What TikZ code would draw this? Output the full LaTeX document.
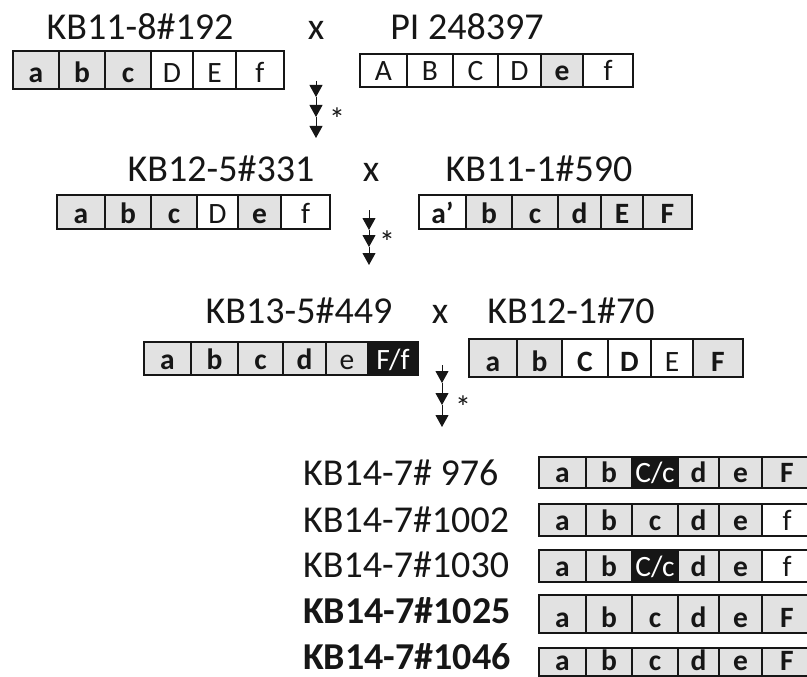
\documentclass[tikz,border=0pt]{standalone}
\usepackage{fontspec}
\setmainfont{Carlito}
\usetikzlibrary{arrows.meta}

\definecolor{cellgray}{RGB}{226,226,226}
\definecolor{ink}{RGB}{22,22,22}

\newcommand\cellfont{\fontsize{29.5}{30}\selectfont}
\newcommand\lblfont{\fontsize{38}{40}\selectfont}

% one cell: name, left x, right x, top y, bottom y, style, text
\newcommand\cellat[7]{%
  \pgfmathsetmacro\cellW{#3-#2}%
  \pgfmathsetmacro\cellH{#5-#4}%
  \pgfmathsetmacro\cellT{#5-#4-12}%
  \node[cellbase,#6,minimum width=\cellW pt,minimum height=\cellH pt,
        text height=\cellT pt,text depth=0pt] (#1) at ({(#2+#3)/2},{(#4+#5)/2}) {#7};%
}

% a row of six cells with a frame: name, top y, bottom y, x borders, style/text list
\newcommand\genebox[5]{%
  \foreach [count=\i] \cs/\ct in {#5} {%
    \pgfmathsetmacro\xl{{#4}[\i-1]}%
    \pgfmathsetmacro\xr{{#4}[\i]}%
    \cellat{#1-\i}{\xl}{\xr}{#2}{#3}{\cs}{\ct}%
  }%
  \draw[boxframe] (#1-1.north west) rectangle (#1-6.south east);%
}

\tikzset{
  cellbase/.style={draw=ink, line width=1.3pt, inner sep=0pt, outer sep=0pt,
                   text=ink, font=\cellfont},
  gcell/.style={fill=cellgray, font=\cellfont\bfseries},
  gncell/.style={fill=cellgray},
  wcell/.style={fill=white},
  wbcell/.style={fill=white, font=\cellfont\bfseries},
  kcell/.style={fill=ink, text=white},
  boxframe/.style={draw=ink, line width=2pt},
  lbl/.style={font=\lblfont, text=ink, inner sep=0pt},
  blbl/.style={font=\lblfont\bfseries, text=ink, inner sep=0pt},
  star/.style={font=\fontsize{32}{32}\selectfont, text=ink, inner sep=0pt},
  chain/.style={draw=ink, line width=1pt, -{Triangle[width=13pt,length=12pt]}},
}

\begin{document}
\begin{tikzpicture}[x=1pt,y=-1pt]
\useasboundingbox (0,0) rectangle (807,677);

% first cross
\node[lbl, anchor=base] (p1) at (140,40) {KB11-8\#192};
\node[lbl, anchor=base] (x1) at (316,40) {x};
\node[lbl, anchor=base] (p2) at (467,40) {PI 248397};
\genebox{b1}{51}{89}{13,59,105,151,193,236,284}
  {gcell/a,gcell/b,gcell/c,wcell/D,wcell/E,wcell/f}
\genebox{b2}{54}{87}{360,407,453,498,541,583,633}
  {wcell/A,wcell/B,wcell/C,wcell/D,gcell/e,wcell/f}

\coordinate (s1) at (316,81);
\coordinate (h11) at (316,97);
\coordinate (h12) at (316,117);
\coordinate (h13) at (316,138);
\draw[chain] (s1) -- (h11);
\draw[chain] (h11) -- (h12);
\draw[chain] (h12) -- (h13);
\node[star, anchor=base] (st1) at (337,131) {*};

% second cross
\node[lbl, anchor=base] (p3) at (221,182) {KB12-5\#331};
\node[lbl, anchor=base] (x2) at (371,182) {x};
\node[lbl, anchor=base] (p4) at (539,182) {KB11-1\#590};
\genebox{b3}{195}{229}{57,105,151,197,238,281,330}
  {gcell/a,gcell/b,gcell/c,wcell/D,gcell/e,wcell/f}
\genebox{b4}{195}{229}{419,466,512,558,601,643,692}
  {wbcell/a',gcell/b,gcell/c,gcell/d,gcell/E,gcell/F}

\coordinate (s2) at (369,210);
\coordinate (h21) at (369,230);
\coordinate (h22) at (369,247);
\coordinate (h23) at (369,265);
\draw[chain] (s2) -- (h21);
\draw[chain] (h21) -- (h22);
\draw[chain] (h22) -- (h23);
\node[star, anchor=base] (st2) at (387,253) {*};

% third cross
\node[lbl, anchor=base] (p5) at (299,323) {KB13-5\#449};
\node[lbl, anchor=base] (x3) at (440,323) {x};
\node[lbl, anchor=base] (p6) at (571,323) {KB12-1\#70};
\genebox{b5}{342}{375}{144,191,238,283,326,368,418}
  {gcell/a,gcell/b,gcell/c,gcell/d,gncell/e,kcell/{F/f}}
\genebox{b6}{339}{377}{469,517,562,608,651,693,743}
  {gcell/a,gcell/b,wbcell/C,wbcell/D,wcell/E,gcell/F}

\coordinate (s3) at (442,365);
\coordinate (h31) at (442,383);
\coordinate (h32) at (442,405);
\coordinate (h33) at (442,427);
\draw[chain] (s3) -- (h31);
\draw[chain] (h31) -- (h32);
\draw[chain] (h32) -- (h33);
\node[star, anchor=base] (st3) at (463,418) {*};

% progeny
\node[lbl, anchor=base west] (q1) at (303,485) {KB14-7\# 976};
\node[lbl, anchor=base west] (q2) at (303,532) {KB14-7\#1002};
\node[lbl, anchor=base west] (q3) at (303,577) {KB14-7\#1030};
\node[blbl, anchor=base west] (q4) at (303,623) {KB14-7\#1025};
\node[blbl, anchor=base west] (q5) at (303,669) {KB14-7\#1046};

\genebox{r1}{457}{488}{539,586,632,678,719,762,812}
  {gcell/a,gcell/b,kcell/{C/c},gcell/d,gcell/e,gcell/F}
\genebox{r2}{504}{536}{539,586,632,678,719,762,812}
  {gcell/a,gcell/b,gcell/c,gcell/d,gcell/e,wcell/f}
\genebox{r3}{550}{582}{539,586,632,678,719,762,812}
  {gcell/a,gcell/b,kcell/{C/c},gcell/d,gcell/e,wcell/f}
\genebox{r4}{595}{633}{539,586,632,678,719,762,812}
  {gcell/a,gcell/b,gcell/c,gcell/d,gcell/e,gcell/F}
\genebox{r5}{648}{676}{539,586,632,678,719,762,812}
  {gcell/a,gcell/b,gcell/c,gcell/d,gcell/e,gcell/F}
\end{tikzpicture}
\end{document}
